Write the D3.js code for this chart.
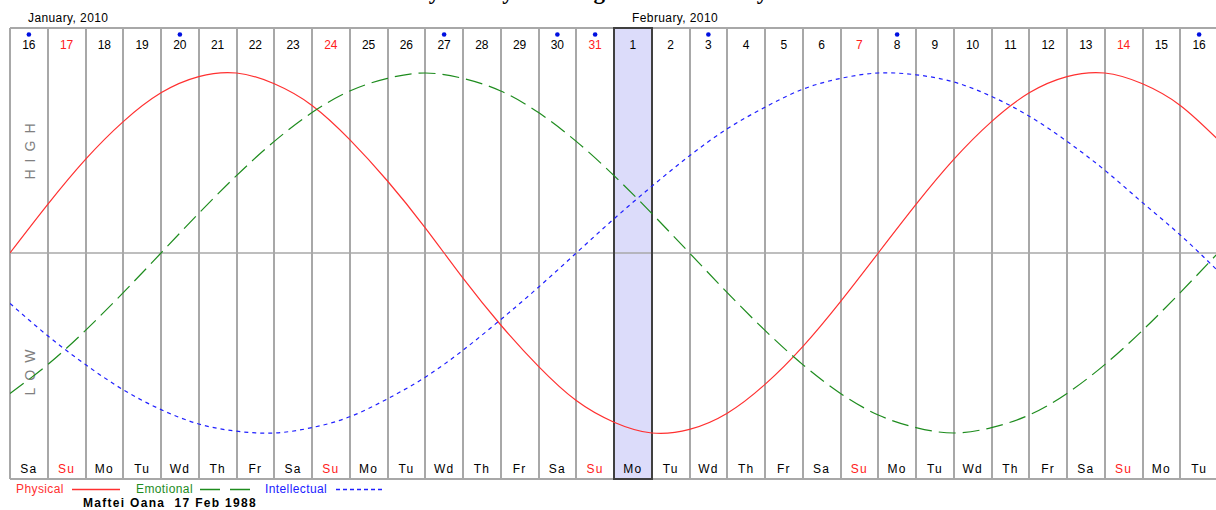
<!DOCTYPE html>
<html><head><meta charset="utf-8">
<script src="https://cdn.jsdelivr.net/npm/d3@7"></script>
<style>
html,body{margin:0;padding:0;background:#fff;overflow:hidden}
svg{display:block}
text{font-family:"Liberation Sans",Arial,sans-serif}
</style></head><body>
<svg id="c" width="1216" height="510"></svg>
<script>
// ---- data ----
const dayNumbers = [16,17,18,19,20,21,22,23,24,25,26,27,28,29,30,31,1,2,3,4,5,6,7,8,9,10,11,12,13,14,15,16];
const weekdays = ["Sa","Su","Mo","Tu","Wd","Th","Fr","Sa","Su","Mo","Tu","Wd","Th","Fr","Sa","Su","Mo","Tu","Wd","Th","Fr","Sa","Su","Mo","Tu","Wd","Th","Fr","Sa","Su","Mo","Tu"];
const markedDays = [0,4,11,14,15,18,23,31];        // columns with a blue marker dot
const todayIndex = 16;                               // Feb 1 highlighted
const monthLabels = [{label:"January, 2010", col:0},{label:"February, 2010", col:16}];
// value of each cycle at the start of each day (day 0 = 16 Jan)
const physical = [0,0.27,0.52,0.73,0.89,0.98,1.00,0.94,0.82,0.63,0.40,0.14,-0.14,-0.40,-0.63,-0.82,-0.94,-1.00,-0.98,-0.89,-0.73,-0.52,-0.27,0,0.27,0.52,0.73,0.89,0.98,1.00,0.94,0.82,0.63];
const emotional = [-0.78,-0.62,-0.43,-0.22,0,0.22,0.43,0.62,0.78,0.90,0.97,1.00,0.97,0.90,0.78,0.62,0.43,0.22,0,-0.22,-0.43,-0.62,-0.78,-0.90,-0.97,-1.00,-0.97,-0.90,-0.78,-0.62,-0.43,-0.22,0];
const intellectual = [-0.28,-0.46,-0.62,-0.76,-0.87,-0.95,-0.99,-1.00,-0.97,-0.91,-0.81,-0.69,-0.54,-0.37,-0.19,0,0.19,0.37,0.54,0.69,0.81,0.91,0.97,1.00,0.99,0.95,0.87,0.76,0.62,0.46,0.28,0.10,-0.10];
const legendItems = ["Physical","Emotional","Intellectual"];
const personLabel = "Maftei Oana  17 Feb 1988";
const titleText = "Daily Biorhythm Diagram for January";

// ---- layout ----
const svg = d3.select("#c");
const leftX = 10, colW = 37.75, topY = 28, bottomY = 479;
const nCols = dayNumbers.length;
const x = d3.scaleLinear().domain([0, nCols]).range([leftX, leftX + nCols*colW]);
const y = d3.scaleLinear().domain([-1, 1]).range([433, 73]);
const grid = "#a8a8a8";
const red = "#ff3030", green = "#1e8c1e", blue = "#2020ff";

// title (mostly above the visible area, as in the original)
svg.append("text").attr("x", 578).attr("y", -1).attr("text-anchor","middle")
  .style("font-family","'Liberation Serif','Times New Roman',serif").style("font-weight","bold").style("font-size","23px")
  .attr("fill","#000").text(titleText);

// highlighted column
svg.append("rect").attr("x", x(todayIndex)).attr("y", topY).attr("width", colW).attr("height", bottomY-topY)
  .attr("fill","#dcdcfa");

// frame lines
svg.append("line").attr("x1", leftX).attr("x2", 1216).attr("y1", topY).attr("y2", topY).attr("stroke", grid).attr("stroke-width", 2);
svg.append("line").attr("x1", leftX).attr("x2", 1216).attr("y1", bottomY).attr("y2", bottomY).attr("stroke", grid).attr("stroke-width", 2);
svg.append("line").attr("x1", leftX).attr("x2", 1216).attr("y1", y(0)).attr("y2", y(0)).attr("stroke", grid).attr("stroke-width", 1.5);

// vertical grid lines
svg.append("g").selectAll("line").data(d3.range(nCols+1)).join("line")
  .attr("x1", d=>Math.round(x(d))).attr("x2", d=>Math.round(x(d)))
  .attr("y1", topY).attr("y2", bottomY).attr("stroke", grid).attr("stroke-width", 2);

// today border
svg.append("rect").attr("x", Math.round(x(todayIndex))).attr("y", topY).attr("width", Math.round(x(todayIndex+1))-Math.round(x(todayIndex))).attr("height", bottomY-topY)
  .attr("fill","none").attr("stroke","#404040").attr("stroke-width",2);

// month labels
svg.append("g").selectAll("text").data(monthLabels).join("text")
  .attr("x", d=>x(d.col)+18).attr("y", 22).attr("font-size","12px").attr("letter-spacing","0.4px")
  .attr("fill","#000").text(d=>d.label);

// day numbers
svg.append("g").selectAll("text").data(dayNumbers).join("text")
  .attr("x", (d,i)=>x(i)+colW/2).attr("y", 49).attr("text-anchor","middle").attr("font-size","12px")
  .attr("fill", (d,i)=>weekdays[i]==="Su" ? "#ff2020" : "#000").text(d=>d);

// marker dots
svg.append("g").selectAll("circle").data(markedDays).join("circle")
  .attr("cx", d=>x(d)+colW/2).attr("cy", 34.5).attr("r", 2.3).attr("fill","#0010e0");

// weekday labels
svg.append("g").selectAll("text").data(weekdays).join("text")
  .attr("x", (d,i)=>x(i)+colW/2).attr("y", 473).attr("text-anchor","middle").attr("font-size","12px")
  .attr("letter-spacing","1.2px")
  .attr("fill", d=>d==="Su" ? "#ff2020" : "#000").text(d=>d);

// HIGH / LOW
svg.append("text").attr("transform","translate(35,148) rotate(-90)").attr("text-anchor","middle")
  .attr("font-size","14px").attr("letter-spacing","7px").attr("fill","#808080").text("HIGH");
svg.append("text").attr("transform","translate(35,369) rotate(-90)").attr("text-anchor","middle")
  .attr("font-size","14px").attr("letter-spacing","7px").attr("fill","#808080").text("LOW");

// curves
const line = d3.line().x((d,i)=>x(i)).y(d=>y(d)).curve(d3.curveNatural);
svg.append("clipPath").attr("id","pc").append("rect").attr("x",leftX).attr("y",topY).attr("width",1216-leftX).attr("height",bottomY-topY);
const curves = svg.append("g").attr("clip-path","url(#pc)");
curves.append("path").datum(physical).attr("d", line).attr("fill","none").attr("stroke", red).attr("stroke-width",1.2);
curves.append("path").datum(emotional).attr("d", line).attr("fill","none").attr("stroke", green).attr("stroke-width",1.2).attr("stroke-dasharray","17,7");
curves.append("path").datum(intellectual).attr("d", line).attr("fill","none").attr("stroke", blue).attr("stroke-width",1.2).attr("stroke-dasharray","4,4");

// legend
const legendDefs = [
  {tx:16, lx1:72, lx2:120, c:red, dash:"none"},
  {tx:136, lx1:200, lx2:250, c:green, dash:"20,10"},
  {tx:265, lx1:336, lx2:384, c:blue, dash:"4,3"}
];
const lg = svg.append("g");
legendItems.forEach((name,i)=>{
  const def = legendDefs[i];
  lg.append("text").attr("x", def.tx).attr("y", 493).attr("font-size","12px").attr("letter-spacing","0.4px")
    .style("fill", def.c).text(name);
  lg.append("line").attr("x1", def.lx1).attr("x2", def.lx2).attr("y1", 489.5).attr("y2", 489.5)
    .style("stroke", def.c).style("stroke-width","1.3px").style("stroke-dasharray", def.dash);
});
svg.append("text").attr("x", 83).attr("y", 507).attr("font-size","12px").attr("font-weight","bold")
  .attr("letter-spacing","1.3px").attr("fill","#000").attr("xml:space","preserve").style("white-space","pre").text(personLabel);
</script>
</body></html>
